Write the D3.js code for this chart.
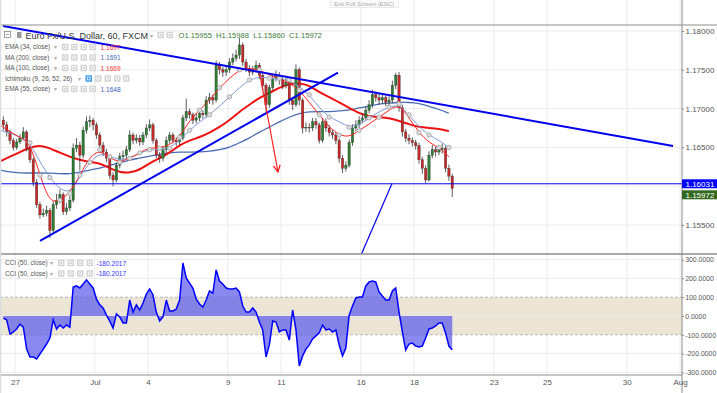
<!DOCTYPE html>
<html>
<head>
<meta charset="utf-8">
<script src="https://cdnjs.cloudflare.com/ajax/libs/d3/7.8.5/d3.min.js"></script>
<style>
  body { margin: 0; background: #fff; }
  svg { display: block; font-family: 'Liberation Sans', Arial, sans-serif; }
  .tick text { font-size: 8px; fill: #555; }
  .tick line { stroke: #888; }
  .legend { font-size: 6.4px; fill: #555; }
</style>
</head>
<body>
<svg id="chart" width="717" height="393"></svg>
<script>
// Data (3-hour bars, EUR/USD, Jun 26 - Jul 19)

const FIRST_OPEN = 1.1685;

const CLOSES = [
  1.1679, 1.1670, 1.1659, 1.1650, 1.1657, 1.1662, 1.1670, 1.1649, 1.1634, 1.1605,
  1.1576, 1.1563, 1.1565, 1.1569, 1.1543, 1.1576, 1.1582, 1.1589, 1.1567, 1.1572,
  1.1582, 1.1649, 1.1653, 1.1640, 1.1672, 1.1683, 1.1685, 1.1679, 1.1666, 1.1653,
  1.1644, 1.1636, 1.1614, 1.1608, 1.1627, 1.1638, 1.1640, 1.1647, 1.1666, 1.1659,
  1.1662, 1.1657, 1.1666, 1.1675, 1.1679, 1.1659, 1.1640, 1.1636, 1.1647, 1.1659,
  1.1666, 1.1659, 1.1657, 1.1662, 1.1688, 1.1696, 1.1692, 1.1685, 1.1688, 1.1694,
  1.1692, 1.1711, 1.1714, 1.1711, 1.1756, 1.1750, 1.1747, 1.1750, 1.1760, 1.1765,
  1.1769, 1.1782, 1.1760, 1.1752, 1.1747, 1.1750, 1.1756, 1.1743, 1.1730, 1.1705,
  1.1727, 1.1739, 1.1743, 1.1737, 1.1730, 1.1734, 1.1711, 1.1705, 1.1750, 1.1711,
  1.1675, 1.1676, 1.1675, 1.1683, 1.1679, 1.1659, 1.1683, 1.1675, 1.1669, 1.1666,
  1.1659, 1.1636, 1.1623, 1.1627, 1.1656, 1.1675, 1.1679, 1.1685, 1.1688, 1.1698,
  1.1705, 1.1718, 1.1714, 1.1711, 1.1714, 1.1708, 1.1711, 1.1730, 1.1743, 1.1701,
  1.1670, 1.1662, 1.1659, 1.1656, 1.1652, 1.1634, 1.1623, 1.1608, 1.1640, 1.1647,
  1.1644, 1.1647, 1.1649, 1.1623, 1.1613, 1.1597
];

const HIGHS = [
  1.1690, 1.1683, 1.1673, 1.1662, 1.1661, 1.1667, 1.1676, 1.1672, 1.1652, 1.1637,
  1.1609, 1.1580, 1.1571, 1.1575, 1.1572, 1.1581, 1.1590, 1.1596, 1.1592, 1.1578,
  1.1588, 1.1655, 1.1662, 1.1657, 1.1677, 1.1690, 1.1691, 1.1688, 1.1682, 1.1669,
  1.1657, 1.1648, 1.1639, 1.1618, 1.1631, 1.1643, 1.1646, 1.1652, 1.1672, 1.1669,
  1.1667, 1.1666, 1.1670, 1.1680, 1.1686, 1.1682, 1.1662, 1.1644, 1.1652, 1.1664,
  1.1670, 1.1669, 1.1663, 1.1667, 1.1692, 1.1713, 1.1700, 1.1695, 1.1694, 1.1699,
  1.1698, 1.1716, 1.1720, 1.1718, 1.1762, 1.1760, 1.1754, 1.1755, 1.1765, 1.1771,
  1.1776, 1.1791, 1.1785, 1.1764, 1.1756, 1.1755, 1.1762, 1.1759, 1.1747, 1.1733,
  1.1731, 1.1744, 1.1749, 1.1747, 1.1741, 1.1740, 1.1737, 1.1715, 1.1757, 1.1753,
  1.1714, 1.1682, 1.1681, 1.1688, 1.1688, 1.1682, 1.1688, 1.1687, 1.1679, 1.1673,
  1.1670, 1.1662, 1.1640, 1.1632, 1.1660, 1.1680, 1.1685, 1.1690, 1.1694, 1.1703,
  1.1711, 1.1724, 1.1722, 1.1719, 1.1719, 1.1717, 1.1716, 1.1736, 1.1746, 1.1747,
  1.1705, 1.1674, 1.1667, 1.1663, 1.1660, 1.1656, 1.1638, 1.1627, 1.1645, 1.1653,
  1.1651, 1.1653, 1.1655, 1.1652, 1.1628, 1.1616
];

const LOWS = [
  1.1672, 1.1664, 1.1654, 1.1646, 1.1647, 1.1654, 1.1659, 1.1645, 1.1630, 1.1600,
  1.1572, 1.1558, 1.1560, 1.1561, 1.1533, 1.1540, 1.1571, 1.1578, 1.1563, 1.1563,
  1.1568, 1.1579, 1.1644, 1.1620, 1.1636, 1.1668, 1.1676, 1.1672, 1.1661, 1.1648,
  1.1639, 1.1631, 1.1609, 1.1600, 1.1605, 1.1623, 1.1633, 1.1636, 1.1644, 1.1654,
  1.1655, 1.1652, 1.1653, 1.1662, 1.1671, 1.1655, 1.1636, 1.1630, 1.1632, 1.1643,
  1.1655, 1.1655, 1.1652, 1.1653, 1.1659, 1.1684, 1.1687, 1.1680, 1.1681, 1.1684,
  1.1687, 1.1688, 1.1706, 1.1705, 1.1708, 1.1744, 1.1741, 1.1742, 1.1746, 1.1756,
  1.1761, 1.1764, 1.1755, 1.1747, 1.1742, 1.1743, 1.1746, 1.1738, 1.1724, 1.1696,
  1.1701, 1.1723, 1.1735, 1.1731, 1.1725, 1.1726, 1.1705, 1.1698, 1.1702, 1.1704,
  1.1668, 1.1670, 1.1669, 1.1671, 1.1674, 1.1655, 1.1656, 1.1670, 1.1664, 1.1661,
  1.1654, 1.1630, 1.1617, 1.1619, 1.1624, 1.1652, 1.1671, 1.1675, 1.1681, 1.1684,
  1.1694, 1.1701, 1.1709, 1.1705, 1.1706, 1.1703, 1.1703, 1.1707, 1.1725, 1.1696,
  1.1664, 1.1657, 1.1654, 1.1651, 1.1647, 1.1629, 1.1616, 1.1604, 1.1606, 1.1636,
  1.1638, 1.1640, 1.1642, 1.1618, 1.1607, 1.1586
];

// moving averages, one value every 3 bars (starting one bar before the first)
const EMA34 = [
  1.1679, 1.1670, 1.1663, 1.1656, 1.1614, 1.1578, 1.1582, 1.1591, 1.1614, 1.1638,
  1.1647, 1.1636, 1.1631, 1.1636, 1.1643, 1.1650, 1.1649, 1.1653, 1.1663, 1.1685,
  1.1698, 1.1711, 1.1727, 1.1739, 1.1750, 1.1752, 1.1750, 1.1743, 1.1739, 1.1733,
  1.1724, 1.1708, 1.1692, 1.1676, 1.1666, 1.1663, 1.1672, 1.1680, 1.1689, 1.1698,
  1.1706, 1.1688, 1.1669, 1.1656, 1.1650, 1.1638
];
const MA200 = [
  1.1621, 1.1618, 1.1617, 1.1617, 1.1617, 1.1617, 1.1616, 1.1616, 1.1618, 1.1621,
  1.1623, 1.1627, 1.1630, 1.1634, 1.1636, 1.1639, 1.1641, 1.1643, 1.1644, 1.1644,
  1.1644, 1.1645, 1.1647, 1.1650, 1.1656, 1.1662, 1.1670, 1.1676, 1.1683, 1.1689,
  1.1694, 1.1696, 1.1696, 1.1696, 1.1697, 1.1698, 1.1701, 1.1703, 1.1706, 1.1707,
  1.1708, 1.1708, 1.1707, 1.1703, 1.1699, 1.1694
];
const MA100 = [
  1.1632, 1.1638, 1.1644, 1.1650, 1.1653, 1.1649, 1.1643, 1.1638, 1.1634, 1.1631,
  1.1630, 1.1623, 1.1618, 1.1617, 1.1621, 1.1630, 1.1636, 1.1643, 1.1653, 1.1659,
  1.1663, 1.1669, 1.1676, 1.1685, 1.1696, 1.1705, 1.1714, 1.1720, 1.1727, 1.1732,
  1.1733, 1.1730, 1.1721, 1.1715, 1.1708, 1.1701, 1.1694, 1.1690, 1.1689, 1.1688,
  1.1684, 1.1680, 1.1676, 1.1675, 1.1674, 1.1671
];
const EMA55 = [
  1.1672, 1.1669, 1.1663, 1.1656, 1.1631, 1.1611, 1.1596, 1.1591, 1.1612, 1.1631,
  1.1643, 1.1638, 1.1634, 1.1636, 1.1643, 1.1647, 1.1647, 1.1649, 1.1659, 1.1672,
  1.1683, 1.1692, 1.1703, 1.1715, 1.1727, 1.1737, 1.1741, 1.1739, 1.1738, 1.1737,
  1.1728, 1.1718, 1.1701, 1.1689, 1.1683, 1.1676, 1.1679, 1.1688, 1.1696, 1.1702,
  1.1705, 1.1692, 1.1676, 1.1666, 1.1659, 1.1650
];

const CCI = [
  -11, -21, -96, -85, -69, -43, -59, -176, -218, -218,
  -229, -202, -176, -149, -117, -21, -69, -48, -64, -48,
  -59, 154, 160, 149, 170, 192, 170, 149, 90, 59,
  43, 5, -27, -64, 11, -5, -37, -37, 85, 21,
  59, 32, 69, 117, 144, 112, 21, -27, -5, 85,
  27, 27, 37, 85, 282, 202, 175, 149, 90, 64,
  48, 85, 133, 122, 245, 186, 170, 149, 144, 144,
  149, 128, 53, 21, 21, 43, 21, -32, -74, -218,
  -154, -27, -32, -85, -74, -74, -128, 32, -74, -266,
  -213, -176, -154, -122, -106, -90, -48, -74, -69, -85,
  -74, -154, -213, -170, 5, 53, 96, 101, 101, 160,
  181, 186, 181, 128, 106, 85, 85, 133, 149, 21,
  -85, -181, -149, -144, -160, -165, -160, -117, -69, -64,
  -53, -37, -37, -90, -160, -180
];
const CCI_LAST = '-180.2017';

// drawings: [trading day, price]
const DOWN_TREND = [[-0.451, 1.18064], [24.74, 1.16518]];
const UP_TREND = [[0.94, 1.15294], [12.143, 1.17465]];
const RED_ARROW = [[9.211, 1.17433], [9.887, 1.16183]];
const UP_LEG = [[13.008, 1.15113], [14.173, 1.16035]];
const SUPPORT = 1.16031;
const LAST_CLOSE = 1.15972;

// ticks
const PRICE_TICKS = [1.155, 1.16, 1.165, 1.17, 1.175, 1.18];
const CCI_TICKS = [-300, -200, -100, 0, 100, 200, 300];
const DATE_TICKS = [0, 3, 5, 8, 10, 13, 15, 18, 20, 23, 25];
const DATE_LABELS = ['27', 'Jul', '4', '9', '11', '16', '18', '23', '25', '30', 'Aug'];

const LEGEND_ROWS = [
  { name: 'EMA (34, close)', value: '1.1697', color: '#f33' },
  { name: 'MA (200, close)', value: '1.1691', color: '#4a6cc0' },
  { name: 'MA (100, close)', value: '1.1669', color: '#f33' },
  { name: 'Ichimoku (9, 26, 52, 26)', value: '', color: '#bbb' },
  { name: 'EMA (55, close)', value: '1.1648', color: '#3a5cc0' },
];

// Layout

const axisX = 682;
const priceTop = 25,
  priceBottom = 254,
  cciBottom = 375;

const svg = d3.select('#chart');

const xScale = d3.scaleLinear().domain([0, 25]).range([15, 680]);
const yPrice = d3.scaleLinear().domain([1.155, 1.18]).range([225, 31]);
const yCci = d3.scaleLinear().domain([-300, 300]).range([372.4, 259.6]);

const barDay = i => -0.5 + (i + 0.5) / 8;
const maDay = k => barDay(3 * k - 1);

const defs = svg.append('defs');
defs
  .append('clipPath')
  .attr('id', 'clipPrice')
  .append('rect')
  .attr('x', 0)
  .attr('y', priceTop)
  .attr('width', axisX)
  .attr('height', priceBottom - priceTop);
defs
  .append('clipPath')
  .attr('id', 'clipCci')
  .append('rect')
  .attr('x', 0)
  .attr('y', priceBottom)
  .attr('width', 717)
  .attr('height', cciBottom - priceBottom);

// Grid

svg
  .append('g')
  .selectAll('line')
  .data(DATE_TICKS)
  .enter()
  .append('line')
  .attr('x1', d => xScale(d))
  .attr('x2', d => xScale(d))
  .attr('y1', 0)
  .attr('y2', cciBottom)
  .attr('stroke', '#ececec');

svg
  .append('g')
  .selectAll('line')
  .data(PRICE_TICKS)
  .enter()
  .append('line')
  .attr('x1', 0)
  .attr('x2', axisX)
  .attr('y1', d => yPrice(d))
  .attr('y2', d => yPrice(d))
  .attr('stroke', '#ececec');

// CCI band
svg
  .append('rect')
  .attr('x', 0)
  .attr('width', axisX)
  .attr('y', yCci(100))
  .attr('height', yCci(-100) - yCci(100))
  .attr('fill', '#ece4d4');

svg
  .append('g')
  .selectAll('line')
  .data(CCI_TICKS)
  .enter()
  .append('line')
  .attr('x1', 0)
  .attr('x2', axisX)
  .attr('y1', d => yCci(d))
  .attr('y2', d => yCci(d))
  .attr('stroke', d => (Math.abs(d) === 100 ? '#b8b8b8' : '#ececec'))
  .attr('stroke-dasharray', d => (Math.abs(d) === 100 ? '3,2' : null));

// Price pane

const pricePane = svg.append('g').attr('clip-path', 'url(#clipPrice)');

function maLine(values) {
  return d3
    .line()
    .x((d, k) => xScale(maDay(k)))
    .y(d => yPrice(d))
    .curve(d3.curveBasis)(values);
}

pricePane
  .append('path')
  .attr('d', maLine(MA200))
  .attr('fill', 'none')
  .attr('stroke', '#4a6cb4')
  .attr('stroke-width', 1.3);

pricePane
  .append('path')
  .attr('d', maLine(MA100))
  .attr('fill', 'none')
  .attr('stroke', '#ee1111')
  .attr('stroke-width', 2);

const candles = CLOSES.map((c, i) => ({
  i: i,
  o: i === 0 ? FIRST_OPEN : CLOSES[i - 1],
  h: HIGHS[i],
  l: LOWS[i],
  c: c,
}));

const candleG = pricePane.append('g');
candleG
  .selectAll('line')
  .data(candles)
  .enter()
  .append('line')
  .attr('x1', d => xScale(barDay(d.i)))
  .attr('x2', d => xScale(barDay(d.i)))
  .attr('y1', d => yPrice(d.h))
  .attr('y2', d => yPrice(d.l))
  .attr('stroke', '#333')
  .attr('stroke-width', 0.8);

candleG
  .selectAll('rect')
  .data(candles)
  .enter()
  .append('rect')
  .attr('x', d => xScale(barDay(d.i)) - 1.2)
  .attr('width', 2.4)
  .attr('y', d => yPrice(Math.max(d.o, d.c)))
  .attr('height', d => Math.max(0.8, Math.abs(yPrice(d.o) - yPrice(d.c))))
  .attr('fill', d => (d.c >= d.o ? '#2e7d32' : '#c62828'))
  .attr('stroke', '#222')
  .attr('stroke-width', 0.3);

pricePane
  .append('path')
  .attr('d', maLine(EMA55))
  .attr('fill', 'none')
  .attr('stroke', '#7f9ad8')
  .attr('stroke-width', 1);

pricePane
  .append('path')
  .attr('d', maLine(EMA34))
  .attr('fill', 'none')
  .attr('stroke', '#ff2020')
  .attr('stroke-width', 1);

// gray markers sitting on the fast averages
const markers = [];
EMA34.forEach((v, k) => {
  if (k % 2 === 0 && k > 2) markers.push([maDay(k), v]);
});
EMA55.forEach((v, k) => {
  if (k % 2 === 1 && k > 2) markers.push([maDay(k), v]);
});
pricePane
  .append('g')
  .selectAll('circle')
  .data(markers)
  .enter()
  .append('circle')
  .attr('cx', d => xScale(d[0]))
  .attr('cy', d => yPrice(d[1]))
  .attr('r', 2.2)
  .attr('fill', '#dcdcdc')
  .attr('stroke', '#9a9a9a')
  .attr('stroke-width', 0.7);

// Drawings
function drawSegment(g, pts, color, width) {
  return g
    .append('line')
    .attr('x1', xScale(pts[0][0]))
    .attr('y1', yPrice(pts[0][1]))
    .attr('x2', xScale(pts[1][0]))
    .attr('y2', yPrice(pts[1][1]))
    .attr('stroke', color)
    .attr('stroke-width', width);
}

pricePane
  .append('line')
  .attr('x1', 0)
  .attr('x2', axisX)
  .attr('y1', yPrice(SUPPORT))
  .attr('y2', yPrice(SUPPORT))
  .attr('stroke', '#0000ee')
  .attr('stroke-width', 1);

drawSegment(pricePane, DOWN_TREND, '#0000ee', 2);
drawSegment(pricePane, UP_TREND, '#0000ee', 2);
drawSegment(pricePane, UP_LEG, '#0000ee', 1.2);

defs
  .append('marker')
  .attr('id', 'arrowHead')
  .attr('viewBox', '0 0 10 10')
  .attr('refX', 9)
  .attr('refY', 5)
  .attr('markerWidth', 7)
  .attr('markerHeight', 7)
  .attr('orient', 'auto')
  .append('path')
  .attr('d', 'M1,1 L9,5 L1,9')
  .attr('fill', 'none')
  .attr('stroke', '#ff2020')
  .attr('stroke-width', 1.5);

drawSegment(pricePane, RED_ARROW, '#ff2020', 1.2).attr(
  'marker-end',
  'url(#arrowHead)'
);

// CCI pane

const cciPane = svg.append('g').attr('clip-path', 'url(#clipCci)');

const cciArea = d3
  .area()
  .x((d, i) => xScale(barDay(i)))
  .y0(yCci(0))
  .y1(d => yCci(d));

const cciLine = d3
  .line()
  .x((d, i) => xScale(barDay(i)))
  .y(d => yCci(d));

cciPane
  .append('path')
  .attr('d', cciArea(CCI))
  .attr('fill', '#5c5cec')
  .attr('fill-opacity', 0.72);

cciPane
  .append('path')
  .attr('d', cciLine(CCI))
  .attr('fill', 'none')
  .attr('stroke', '#0000ff')
  .attr('stroke-width', 1.5);

// Frame

svg
  .append('line')
  .attr('x1', 0)
  .attr('x2', 717)
  .attr('y1', priceTop)
  .attr('y2', priceTop)
  .attr('stroke', '#8c8c8c');

svg
  .append('line')
  .attr('x1', 0)
  .attr('x2', 717)
  .attr('y1', priceBottom)
  .attr('y2', priceBottom)
  .attr('stroke', '#8c8c8c')
  .attr('stroke-width', 1.5);

svg
  .append('line')
  .attr('x1', 0)
  .attr('x2', axisX)
  .attr('y1', cciBottom)
  .attr('y2', cciBottom)
  .attr('stroke', '#8c8c8c');

svg
  .append('line')
  .attr('x1', axisX)
  .attr('x2', axisX)
  .attr('y1', 0)
  .attr('y2', 393)
  .attr('stroke', '#8c8c8c');

svg
  .append('line')
  .attr('x1', 0.5)
  .attr('x2', 0.5)
  .attr('y1', 0)
  .attr('y2', 393)
  .attr('stroke', '#d8dde2')
  .attr('stroke-width', 1.5);

// Axes

// 1.16000 sits under the support label, so it is not printed
const priceAxis = svg
  .append('g')
  .attr('transform', `translate(${axisX},0)`)
  .call(
    d3
      .axisRight(yPrice)
      .tickValues(PRICE_TICKS.filter(d => d !== 1.16))
      .tickSize(2)
      .tickPadding(1.5)
      .tickFormat(d => d.toFixed(5))
  );
priceAxis.select('.domain').remove();

// the lowest CCI label stays half hidden under the pane edge, as on screen
const cciAxis = svg
  .append('g')
  .attr('clip-path', 'url(#clipCci)')
  .append('g')
  .attr('transform', `translate(${axisX},0)`)
  .call(
    d3
      .axisRight(yCci)
      .tickValues(CCI_TICKS)
      .tickSize(2)
      .tickPadding(1.2)
      .tickFormat(d => d.toFixed(4))
  );
cciAxis.select('.domain').remove();
cciAxis.selectAll('text').style('font-size', '6.9px');

const dateAxis = svg
  .append('g')
  .attr('transform', `translate(0,${cciBottom})`)
  .call(
    d3
      .axisBottom(xScale)
      .tickValues(DATE_TICKS)
      .tickSize(0)
      .tickPadding(4)
      .tickFormat((d, i) => DATE_LABELS[i])
  );
dateAxis.select('.domain').remove();
dateAxis.selectAll('text').attr('fill', '#444');

// price labels on the axis
const supportY = yPrice(SUPPORT);
svg
  .append('rect')
  .attr('x', axisX)
  .attr('y', supportY - 4.5)
  .attr('width', 35)
  .attr('height', 9)
  .attr('fill', '#0000ff');
svg
  .append('text')
  .attr('x', axisX + 3.5)
  .attr('y', supportY + 3)
  .attr('font-size', 8)
  .attr('fill', '#fff')
  .text(SUPPORT.toFixed(5));

svg
  .append('rect')
  .attr('x', axisX)
  .attr('y', supportY + 6.5)
  .attr('width', 35)
  .attr('height', 9)
  .attr('fill', '#33691e');
svg
  .append('text')
  .attr('x', axisX + 3.5)
  .attr('y', supportY + 14)
  .attr('font-size', 8)
  .attr('fill', '#fff')
  .text(LAST_CLOSE.toFixed(5));

// Legends

function iconButtons(g, xs, y, blueFirst) {
  xs.forEach((bx, j) => {
    g.append('rect')
      .attr('x', bx)
      .attr('y', y - 3.3)
      .attr('width', 6.5)
      .attr('height', 6.5)
      .attr('rx', 0.8)
      .attr('fill', blueFirst && j === 0 ? '#3f9be8' : '#d4d4d4');
    g.append('rect')
      .attr('x', bx + 1.8)
      .attr('y', y - 1.5)
      .attr('width', 2.9)
      .attr('height', 2.9)
      .attr('fill', 'none')
      .attr('stroke', '#fff')
      .attr('stroke-width', 0.7);
  });
}

const legend = svg.append('g');

legend
  .append('rect')
  .attr('x', 4.5)
  .attr('y', 31.5)
  .attr('width', 6)
  .attr('height', 6)
  .attr('fill', '#fff')
  .attr('stroke', '#777')
  .attr('stroke-width', 0.7);
legend
  .append('line')
  .attr('x1', 6)
  .attr('x2', 9)
  .attr('y1', 34.5)
  .attr('y2', 34.5)
  .attr('stroke', '#777')
  .attr('stroke-width', 0.7);
legend
  .append('rect')
  .attr('x', 17)
  .attr('y', 32)
  .attr('width', 4.5)
  .attr('height', 6)
  .attr('fill', '#9a9a9a');

legend
  .append('text')
  .attr('x', 25.5)
  .attr('y', 38.5)
  .attr('font-size', 9)
  .attr('fill', '#333')
  .text('Euro Fx/U.S. Dollar, 60, FXCM');
legend
  .append('text')
  .attr('x', 150)
  .attr('y', 37.5)
  .attr('font-size', 6)
  .attr('fill', '#aaa')
  .text('▾');
iconButtons(legend, [157.5, 166.5], 35, false);

legend
  .append('text')
  .attr('x', 178.5)
  .attr('y', 38)
  .attr('font-size', 7.6)
  .attr('fill', '#3d7a3d')
  .text('O1.15955 \u00a0H1.15988 \u00a0L1.15860 \u00a0C1.15972');

LEGEND_ROWS.forEach((row, j) => {
  const y = 47 + j * 10.5;
  const isIchimoku = row.value === '';
  legend
    .append('text')
    .attr('class', 'legend')
    .attr('x', 5)
    .attr('y', y + 2.3)
    .attr('fill', isIchimoku ? '#bbb' : '#555')
    .text(row.name);
  legend
    .append('text')
    .attr('x', isIchimoku ? 78 : 54)
    .attr('y', y + 2.3)
    .attr('font-size', 5.5)
    .attr('fill', '#aaa')
    .text('▾');
  if (isIchimoku) {
    iconButtons(legend, [85.5, 95, 104.5, 114, 123], y, true);
  } else {
    iconButtons(legend, [62, 71, 80.5, 89.5], y, false);
    legend
      .append('text')
      .attr('x', 100.5)
      .attr('y', y + 2.5)
      .attr('font-size', 6.6)
      .attr('fill', row.color)
      .text(row.value);
  }
});

[263, 273.5].forEach(y => {
  legend
    .append('text')
    .attr('class', 'legend')
    .attr('x', 5)
    .attr('y', y + 2.3)
    .text('CCI (50, close)');
  legend
    .append('text')
    .attr('x', 50)
    .attr('y', y + 2.3)
    .attr('font-size', 5.5)
    .attr('fill', '#aaa')
    .text('▾');
  iconButtons(legend, [58, 67.5, 77, 86.5], y, false);
  legend
    .append('text')
    .attr('x', 96.5)
    .attr('y', y + 2.5)
    .attr('font-size', 6.6)
    .attr('fill', '#3333ff')
    .text(CCI_LAST);
});

// top bar
svg
  .append('rect')
  .attr('x', 330.5)
  .attr('y', -1)
  .attr('width', 68)
  .attr('height', 8.5)
  .attr('fill', '#fafafa')
  .attr('stroke', '#dcdcdc')
  .attr('stroke-width', 0.6);
svg
  .append('text')
  .attr('x', 334)
  .attr('y', 5.5)
  .attr('font-size', 6)
  .attr('fill', '#aaa')
  .text('Exit Full Screen (ESC)');
</script>
</body>
</html>
